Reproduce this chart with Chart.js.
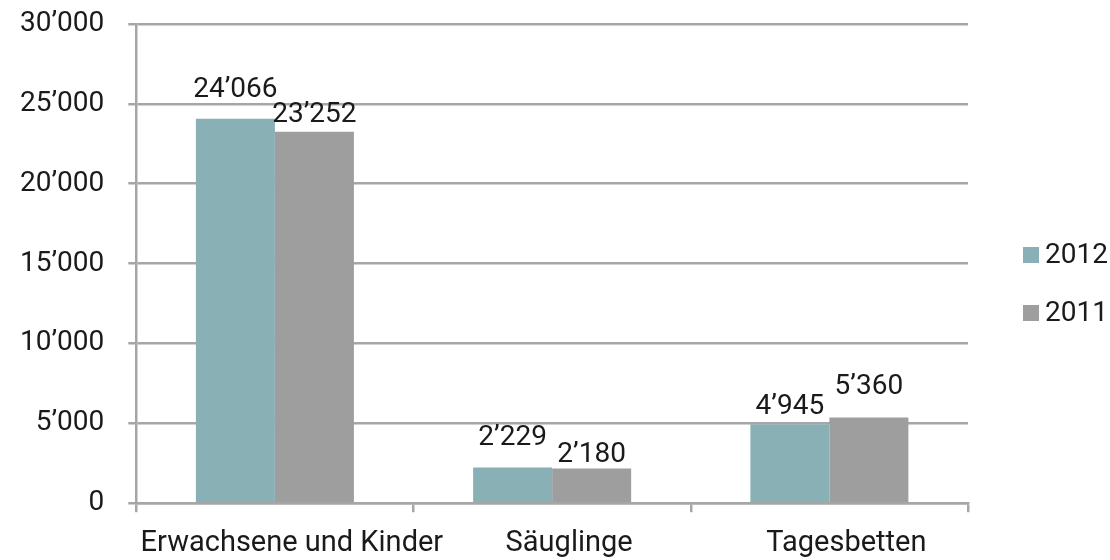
<!DOCTYPE html>
<html>
<head>
<meta charset="utf-8">
<script src="https://cdn.jsdelivr.net/npm/chart.js@4.4.1/dist/chart.umd.min.js"></script>
<style>
    html, body { margin: 0; padding: 0; background: #ffffff; }
    #wrap { width: 1110px; height: 560px; position: relative; }
</style>
</head>
<body>
<div id="wrap"><canvas id="chart"></canvas></div>
<script>
// Data
const categories = ['Erwachsene und Kinder', 'Säuglinge', 'Tagesbetten'];
const seriesNames = ['2012', '2011'];
const values2012 = [24066, 2229, 4945];
const values2011 = [23252, 2180, 5360];
const yTicks = [0, 5000, 10000, 15000, 20000, 25000, 30000];

const colors = ['#88b0b5', '#9e9e9e'];
const gridColor = '#a6a6a6';
const textColor = '#1a1a1a';
const fontFamily = 'Roboto, "DejaVu Sans", sans-serif';

// Swiss thousands separator
const fmt = v => String(v).replace(/\B(?=(\d{3})+(?!\d))/g, '\u2019');

// Value labels above each bar (distance from bar top, as in the original layout)
const barLabels = {
    id: 'barLabels',
    afterDatasetsDraw(chart, args, opts) {
        const ctx = chart.ctx;
        ctx.save();
        ctx.font = opts.font;
        ctx.fillStyle = opts.color;
        ctx.textAlign = 'center';
        ctx.textBaseline = 'alphabetic';
        chart.data.datasets.forEach((ds, di) => {
            chart.getDatasetMeta(di).data.forEach((bar, i) => {
                ctx.fillText(fmt(ds.data[i]), bar.x, bar.y - opts.gaps[di][i]);
            });
        });
        ctx.restore();
    }
};

// Legend drawn to the right of the plot area
const sideLegend = {
    id: 'sideLegend',
    afterDraw(chart, args, opts) {
        const ctx = chart.ctx;
        const area = chart.chartArea;
        ctx.save();
        ctx.font = opts.font;
        ctx.textBaseline = 'middle';
        ctx.textAlign = 'left';
        chart.data.datasets.forEach((ds, i) => {
            const y = opts.top + i * opts.spacing;
            const x = area.right + opts.offset;
            ctx.fillStyle = ds.backgroundColor;
            ctx.fillRect(x, y - opts.box / 2, opts.box, opts.box);
            ctx.fillStyle = opts.color;
            ctx.fillText(ds.label, x + opts.box + 6, y + 1);
        });
        ctx.restore();
    }
};

new Chart(document.getElementById('chart'), {
    type: 'bar',
    data: {
        labels: categories,
        datasets: [
            { label: seriesNames[0], data: values2012, backgroundColor: colors[0] },
            { label: seriesNames[1], data: values2011, backgroundColor: colors[1] }
        ]
    },
    plugins: [barLabels, sideLegend],
    options: {
        responsive: true,
        maintainAspectRatio: false,
        animation: false,
        datasets: {
            bar: { categoryPercentage: 0.57, barPercentage: 1.0 }
        },
        layout: { padding: { top: 0, right: 142, bottom: -15, left: -4 } },
        plugins: {
            legend: { display: false },
            tooltip: { enabled: false },
            barLabels: {
                font: '28px ' + fontFamily,
                color: textColor,
                gaps: [[22, 23, 10], [10, 6, 24]]
            },
            sideLegend: {
                font: '28px ' + fontFamily,
                color: textColor,
                top: 255,
                spacing: 58,
                offset: 55,
                box: 16
            }
        },
        scales: {
            x: {
                grid: {
                    display: true,
                    drawOnChartArea: false,
                    drawTicks: true,
                    tickLength: 9,
                    color: gridColor,
                    lineWidth: 2.5,
                    offset: true
                },
                border: { display: true, color: gridColor, width: 2.5 },
                ticks: {
                    color: textColor,
                    padding: 14,
                    labelOffset: 17,
                    maxRotation: 0,
                    autoSkip: false,
                    font: { family: fontFamily, size: 29 }
                }
            },
            y: {
                min: 0,
                max: 30000,
                afterBuildTicks: axis => { axis.ticks = yTicks.map(v => ({ value: v })); },
                // keep the top gridline close to the canvas edge
                afterFit: axis => { axis.paddingTop = 24; },
                grid: {
                    color: gridColor,
                    lineWidth: 2.5,
                    tickLength: 8
                },
                border: { display: true, color: gridColor, width: 2.5 },
                ticks: {
                    color: textColor,
                    padding: 24,
                    font: { family: fontFamily, size: 28 },
                    callback: v => fmt(v)
                }
            }
        }
    }
});
</script>
</body>
</html>
